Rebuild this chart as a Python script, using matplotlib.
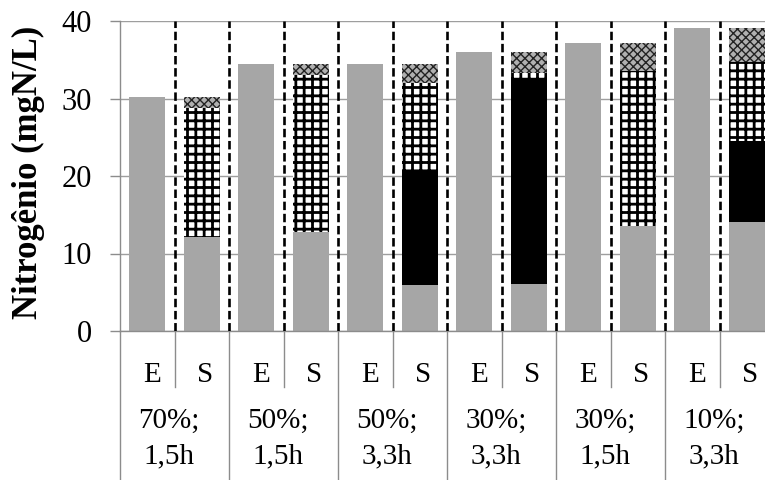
import matplotlib
matplotlib.use("Agg")
import matplotlib.pyplot as plt
import matplotlib.transforms as mtransforms
import numpy as np

# ---- data ----
groups_l1 = ["70%;", "50%;", "50%;", "30%;", "30%;", "10%;"]
groups_l2 = ["1,5h", "1,5h", "3,3h", "3,3h", "1,5h", "3,3h"]
sub_labels = ["E", "S"]
e_values = [30.2, 34.5, 34.5, 36.0, 37.2, 39.1]
s_gray = [12.1, 12.8, 5.9, 6.1, 13.5, 14.1]
s_black = [0.0, 0.0, 14.6, 26.6, 0.0, 10.4]
s_grid = [16.7, 20.2, 11.5, 0.6, 20.0, 10.2]
s_dot = [1.4, 1.5, 2.5, 2.7, 3.7, 4.4]
yticks = [0, 10, 20, 30, 40]
ylabel = "Nitrogênio (mgN/L)"

plt.rcParams['font.family'] = ['Liberation Serif', 'DejaVu Serif']

W, H = 765, 480
fig = plt.figure(figsize=(W / 100, H / 100), dpi=100)
x_left, x_right = 120, 774
y_bot, y_top = 331, 21
ax = fig.add_axes([x_left / W, (H - y_bot) / H, (x_right - x_left) / W, (y_bot - y_top) / H])

n = len(e_values)
xe = np.arange(n) * 2
xs = xe + 1
bw = 0.66
gray = "#A6A6A6"

ax.bar(xe, e_values, width=bw, color=gray, zorder=2, linewidth=0)
ax.bar(xs, s_gray, width=bw, color=gray, zorder=2, linewidth=0)
b1 = np.array(s_gray)
ax.bar(xs, s_black, bottom=b1, width=bw, color="black", zorder=2, linewidth=0)
b2 = b1 + np.array(s_black)
with plt.rc_context({'hatch.linewidth': 2.0, 'hatch.color': 'black'}):
    ax.bar(xs, s_grid, bottom=b2, width=bw, color="white", hatch="++",
           edgecolor="black", zorder=2, linewidth=0)
b3 = b2 + np.array(s_grid)
with plt.rc_context({'hatch.linewidth': 1.0, 'hatch.color': '#222222'}):
    ax.bar(xs, s_dot, bottom=b3, width=bw, color="#B0B0B0", hatch="xxxx",
           edgecolor="#222222", zorder=2, linewidth=0)

# dashed separators between every bar
for xb in np.arange(0.5, 2 * n - 1, 1.0):
    ax.plot([xb, xb], [0, 40], color="black", lw=1.9, dashes=(3.2, 1.4), zorder=3,
            solid_capstyle='butt', dash_capstyle='butt')

ax.set_xlim(-0.5, 2 * n - 0.5)
ax.set_ylim(0, 40)
ax.set_yticks(yticks)
ax.set_xticks([])
ax.yaxis.grid(True, color="#9E9E9E", lw=1.0, zorder=0)
ax.set_axisbelow(True)
for s in ["top", "right"]:
    ax.spines[s].set_visible(False)
for s in ["left", "bottom"]:
    ax.spines[s].set_color("#8C8C8C")
    ax.spines[s].set_linewidth(1.0)
ax.tick_params(axis='y', direction='out', length=7, width=1.0, color="#8C8C8C",
               labelsize=22, pad=13)

# category axis below
tr = mtransforms.blended_transform_factory(ax.transData, ax.transAxes)
def ay(py):
    return (y_bot - py) / (y_bot - y_top)

fs = 21
for i in range(n):
    ax.text(xe[i] + 0.09, ay(375), sub_labels[0], transform=tr, ha="center", va="center",
            fontsize=fs, clip_on=False)
    ax.text(xs[i] + 0.06, ay(375), sub_labels[1], transform=tr, ha="center", va="center",
            fontsize=fs, clip_on=False)
    ax.text(xe[i] + 0.4, ay(421), groups_l1[i], transform=tr, ha="center", va="center",
            fontsize=fs, clip_on=False)
    ax.text(xe[i] + 0.4, ay(456), groups_l2[i], transform=tr, ha="center", va="center",
            fontsize=fs, clip_on=False)
    ax.plot([xe[i] + 0.5] * 2, [0, ay(387)], transform=tr, color="#8C8C8C", lw=1.0,
            clip_on=False)
for xb in np.arange(-0.5, 2 * n, 2.0):
    ax.plot([xb, xb], [0, ay(482)], transform=tr, color="#8C8C8C", lw=1.0, clip_on=False)

fig.text(28 / W, 1 - 172 / H, ylabel, rotation=90, ha="center", va="center",
         fontsize=25, fontweight="bold")

fig.savefig("out.png", dpi=100)
